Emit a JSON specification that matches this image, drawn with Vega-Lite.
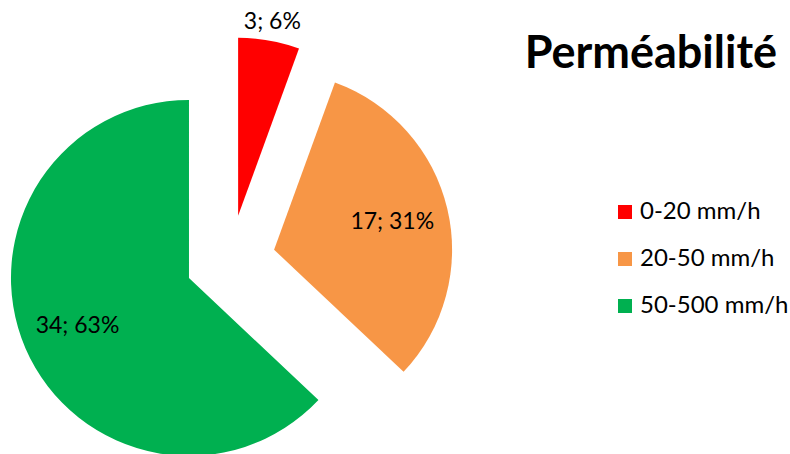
{
  "$schema": "https://vega.github.io/schema/vega-lite/v6.json",
  "width": 790,
  "height": 454,
  "autosize": "none",
  "padding": 0,
  "background": "white",
  "config": {"view": {"stroke": null}},
  "title": {
    "text": "Perméabilité",
    "anchor": "end",
    "frame": "group",
    "font": "Lato",
    "fontSize": 45,
    "fontWeight": "bold",
    "color": "#000000",
    "baseline": "alphabetic",
    "offset": 0,
    "dx": -13,
    "dy": 113
  },
  "data": {
    "values": [
      {"label": "0-20 mm/h", "count": 3},
      {"label": "20-50 mm/h", "count": 17},
      {"label": "50-500 mm/h", "count": 34}
    ]
  },
  "transform": [
    {"stack": "count", "groupby": [], "sort": [{"field": "label", "order": "ascending"}], "as": ["s0", "s1"]},
    {"joinaggregate": [{"op": "sum", "field": "count", "as": "total"}]},
    {"calculate": "2*PI*datum.s0/datum.total", "as": "a0"},
    {"calculate": "2*PI*datum.s1/datum.total", "as": "a1"},
    {"calculate": "(datum.a0+datum.a1)/2", "as": "mid"},
    {"calculate": "0.2528*sin(datum.mid)", "as": "ex"},
    {"calculate": "0.2528*cos(datum.mid)", "as": "ey"},
    {"calculate": "datum.count/datum.total < 0.1 ? 1.36 : 0.935", "as": "lr"},
    {"calculate": "datum.lr*sin(datum.mid)", "as": "lx"},
    {"calculate": "datum.lr*cos(datum.mid)", "as": "ly"},
    {"calculate": "datum.count + '; ' + round(100*datum.count/datum.total) + '%'", "as": "txt"}
  ],
  "layer": [
    {
      "mark": {"type": "arc", "outerRadius": 178, "stroke": null},
      "encoding": {
        "x": {"field": "ex", "type": "quantitative", "scale": {"domain": [-1.2938, 3.1444], "nice": false, "zero": false}, "axis": null},
        "y": {"field": "ey", "type": "quantitative", "scale": {"domain": [-1.0893, 1.4612], "nice": false, "zero": false}, "axis": null},
        "theta": {"field": "a0", "type": "quantitative", "scale": null},
        "theta2": {"field": "a1"},
        "color": {
          "field": "label",
          "type": "nominal",
          "scale": {"domain": ["0-20 mm/h", "20-50 mm/h", "50-500 mm/h"], "range": ["#FF0000", "#F79646", "#00B050"]},
          "legend": {
            "title": null,
            "orient": "none",
            "legendX": 613,
            "legendY": 200,
            "symbolType": "square",
            "symbolSize": 196,
            "symbolStrokeWidth": 0,
            "labelFont": "Lato",
            "labelFontSize": 24,
            "labelColor": "#000000",
            "labelOffset": 3,
            "rowPadding": 23,
            "padding": 0
          }
        }
      }
    },
    {
      "mark": {"type": "text", "font": "Lato", "fontSize": 23, "color": "#000000", "align": "center", "baseline": "middle"},
      "encoding": {
        "x": {"field": "lx", "type": "quantitative", "scale": {"domain": [-1.2938, 3.1444], "nice": false, "zero": false}, "axis": null},
        "y": {"field": "ly", "type": "quantitative", "scale": {"domain": [-1.0893, 1.4612], "nice": false, "zero": false}, "axis": null},
        "text": {"field": "txt"}
      }
    }
  ]
}
